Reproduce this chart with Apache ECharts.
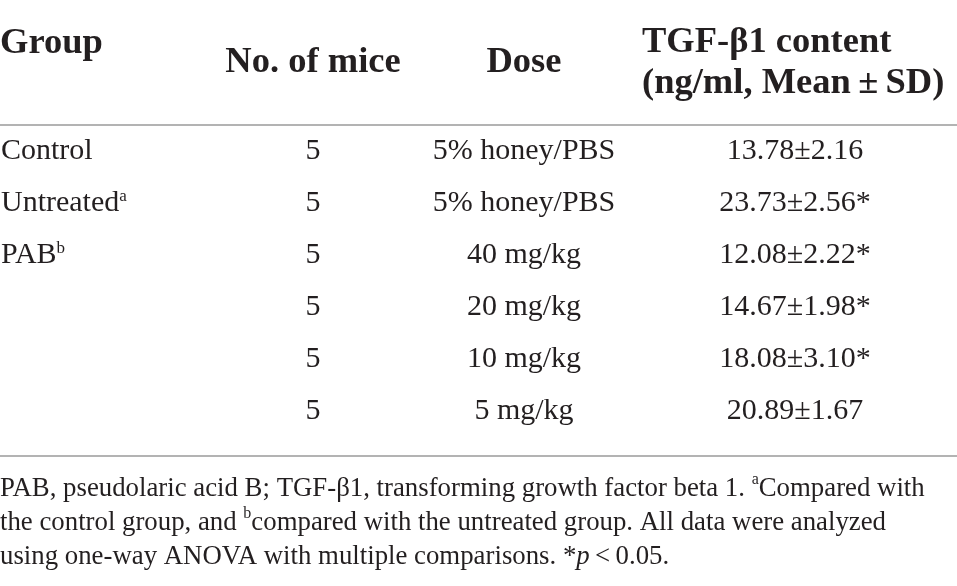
<!DOCTYPE html>
<html>
<head>
<meta charset="utf-8">
<script src="https://cdn.jsdelivr.net/npm/echarts@6/dist/echarts.min.js"></script>
<style>
html,body{margin:0;padding:0;background:#fff}
#chart{width:957px;height:586px}
</style>
</head>
<body>
<div id="chart"></div>
<script>
(()=>{
    "use strict";
    // table values
    let groups = ['Control', 'Untreated{sup|a}', 'PAB{sup|b}', '', '', ''];
    let mice = [5, 5, 5, 5, 5, 5];
    let doses = ['5% honey/PBS', '5% honey/PBS', '40 mg/kg', '20 mg/kg', '10 mg/kg', '5 mg/kg'];
    let means = ['13.78', '23.73', '12.08', '14.67', '18.08', '20.89'];
    let sds = ['2.16', '2.56', '2.22', '1.98', '3.10', '1.67'];
    let signif = [false, true, true, true, true, false];
    let headers = ['Group', 'No. of mice', 'Dose', 'TGF-\u03b21 content\n(ng/ml, Mean\u2009\u00b1\u2009SD)'];

    // layout
    let colX = [1, 313, 524, 795];
    let ink = '#231f20';
    let serif = '"Liberation Serif", "Times New Roman", serif';
    let rows = groups.map((g, i) => 'r' + i);
    let headFont = 'bold 36.5px ' + serif;

    let cell = (c, fmt, align) => ({
        type: 'scatter', symbolSize: 1, silent: true,
        itemStyle: {color: 'rgba(0,0,0,0)', opacity: 1},
        data: rows.map((r, i) => [colX[c], i]),
        label: {
            show: true, position: 'inside', align: align, verticalAlign: 'middle',
            color: ink, fontFamily: serif, fontSize: 30,
            formatter: p => fmt(p.dataIndex),
            rich: {sup: {fontSize: 17, verticalAlign: 'top', color: ink, fontFamily: serif, padding: [0, 0, 12, 0]}}
        }
    });

    let _chart = echarts.init(document.getElementById('chart'), null, {renderer: 'canvas'});
    let _chartOption = {
        backgroundColor: '#fff',
        animation: false,
        grid: {left: 0, right: 0, top: 125, bottom: 149},
        xAxis: {type: 'value', min: 0, max: 957, show: false},
        yAxis: {type: 'category', data: rows, inverse: true, show: false},
        series: [
            cell(0, i => groups[i], 'left'),
            cell(1, i => String(mice[i]), 'center'),
            cell(2, i => doses[i], 'center'),
            cell(3, i => means[i] + '\u00b1' + sds[i] + (signif[i] ? '*' : ''), 'center')
        ],
        graphic: [
            {type: 'text', style: {text: headers[0], x: 0, y: 44, textAlign: 'left', textVerticalAlign: 'middle', font: headFont, fill: ink}},
            {type: 'text', style: {text: headers[1], x: 313, y: 63, textAlign: 'center', textVerticalAlign: 'middle', font: headFont, fill: ink}},
            {type: 'text', style: {text: headers[2], x: 524, y: 63, textAlign: 'center', textVerticalAlign: 'middle', font: headFont, fill: ink}},
            {type: 'text', style: {text: headers[3], x: 642, y: 63, textAlign: 'left', textVerticalAlign: 'middle', font: headFont, lineHeight: 41, fill: ink}},
            {type: 'line', shape: {x1: 0, y1: 125, x2: 957, y2: 125}, style: {stroke: '#9a9a9a', lineWidth: 1.5}},
            {type: 'line', shape: {x1: 0, y1: 456, x2: 957, y2: 456}, style: {stroke: '#9a9a9a', lineWidth: 1.5}},
            {type: 'text', style: {
                x: 0, y: 472, textAlign: 'left', textVerticalAlign: 'top',
                text: 'PAB, pseudolaric acid B; TGF-\u03b21, transforming growth factor beta 1. {sup|a}Compared with\n' +
                      'the control group, and {sup|b}compared with the untreated group. All data were analyzed\n' +
                      'using one-way ANOVA with multiple comparisons. *{it|p}\u2009<\u20090.05.',
                fontFamily: serif, fontSize: 26.8, lineHeight: 34, fill: ink,
                rich: {
                    sup: {fontSize: 16, verticalAlign: 'top', fontFamily: serif, fill: ink, padding: [0, 0, 10, 0]},
                    it: {fontStyle: 'italic', fontSize: 26.8, fontFamily: serif, fill: ink}
                }
            }}
        ]
    };
    _chart.setOption(_chartOption);
})();
</script>
</body>
</html>
